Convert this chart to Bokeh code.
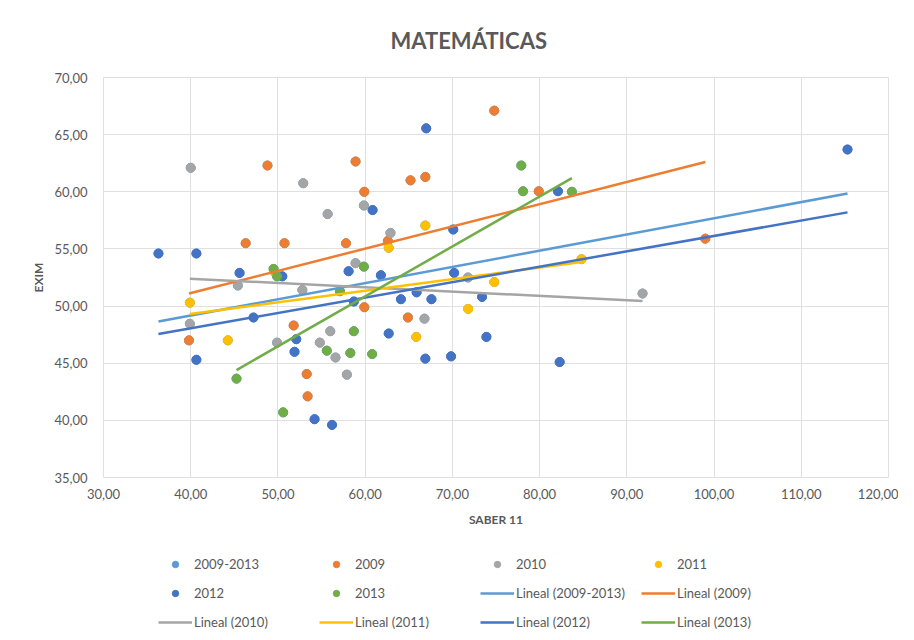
from bokeh.plotting import figure
from bokeh.layouts import column
from bokeh.models import (Legend, LegendItem, CustomJSTickFormatter, FixedTicker, Range1d)
from bokeh.embed import file_html
from bokeh.resources import INLINE

# ---------------- data ----------------
x_2009 = [39.8, 46.3, 48.8, 50.75, 51.8, 53.3, 53.4, 57.8, 58.9, 59.9, 59.9, 62.6,
          64.9, 65.2, 66.9, 74.8, 79.9, 99.0]
y_2009 = [47.0, 55.5, 62.3, 55.5, 48.3, 44.05, 42.1, 55.5, 62.65, 60.0, 49.9, 55.7,
          49.0, 61.0, 61.3, 67.1, 60.05, 55.9]

x_2010 = [40.0, 39.9, 45.4, 49.9, 52.8, 52.9, 54.8, 55.7, 56.0, 56.6, 57.9, 58.9,
          59.85, 62.9, 66.8, 71.8, 91.8]
y_2010 = [62.1, 48.45, 51.8, 46.8, 51.4, 60.75, 46.8, 58.05, 47.8, 45.5, 44.0, 53.75,
          58.8, 56.4, 48.9, 52.5, 51.1]

x_2011 = [39.9, 44.25, 49.7, 62.7, 65.85, 66.9, 71.8, 74.8, 84.8]
y_2011 = [50.3, 47.0, 52.9, 55.1, 47.3, 57.05, 49.75, 52.1, 54.1]

x_2012 = [36.3, 40.65, 40.65, 45.6, 47.2, 50.5, 51.9, 52.1, 54.2, 56.2, 58.1, 58.7,
          60.85, 61.8, 62.7, 64.1, 65.9, 66.9, 67.0, 67.6, 69.85, 70.1, 70.2, 73.4,
          73.9, 82.1, 82.3, 115.3]
y_2012 = [54.6, 54.6, 45.3, 52.9, 49.0, 52.6, 46.0, 47.1, 40.1, 39.6, 53.05, 50.4,
          58.4, 52.7, 47.6, 50.6, 51.2, 45.4, 65.55, 50.6, 45.6, 56.7, 52.9, 50.8,
          47.3, 60.05, 45.1, 63.7]

x_2013 = [45.25, 49.5, 49.9, 50.6, 55.6, 57.1, 58.3, 58.7, 59.85, 60.8, 77.9, 78.1, 83.7]
y_2013 = [43.65, 53.25, 52.6, 40.7, 46.1, 51.3, 45.9, 47.8, 53.45, 45.8, 62.3, 60.05, 60.0]

# 2009-2013 series = all years together
x_all = x_2009 + x_2010 + x_2011 + x_2012 + x_2013
y_all = y_2009 + y_2010 + y_2011 + y_2012 + y_2013

# linear trend lines (x range of each series, fitted value at each end)
trend_names = ["Lineal (2009-2013)", "Lineal (2009)", "Lineal (2010)",
               "Lineal (2011)", "Lineal (2012)", "Lineal (2013)"]
trend_x0 = [36.3, 39.8, 39.9, 39.9, 36.3, 45.25]
trend_x1 = [115.3, 99.0, 91.8, 84.8, 115.3, 83.7]
trend_y0 = [48.65, 51.1, 52.4, 49.3, 47.55, 44.4]
trend_y1 = [59.85, 62.6, 50.45, 53.85, 58.2, 61.2]

series_names = ["2009-2013", "2009", "2010", "2011", "2012", "2013"]

x_ticks = [30, 40, 50, 60, 70, 80, 90, 100, 110, 120]
y_ticks = [35, 40, 45, 50, 55, 60, 65, 70]

# ---------------- styling ----------------
FONT = "Lato"
TXT = "#595959"
GRID = "#E0E0E0"
COLORS = ["#5B9BD5", "#ED7D31", "#A5A5A5", "#FFC000", "#4472C4", "#70AD47"]
MS = 9
LW = 2.5

p = figure(width=898, height=546, output_backend="svg", toolbar_location=None,
           x_range=Range1d(30, 120), y_range=Range1d(35, 70),
           min_border_left=103, min_border_right=10, min_border_top=77,
           min_border_bottom=69)
p.outline_line_color = GRID
p.background_fill_color = "white"
p.border_fill_color = "white"

p.title.text = "MATEMÁTICAS"
p.title.align = "left"
p.title.offset = 287
p.title.standoff = 48
p.title.text_font = FONT
p.title.text_font_size = "22px"
p.title.text_font_style = "bold"
p.title.text_color = TXT

p.xaxis.ticker = FixedTicker(ticks=x_ticks)
p.yaxis.ticker = FixedTicker(ticks=y_ticks)
fmt = CustomJSTickFormatter(code="return tick.toFixed(2).replace('.', ',');")
p.xaxis.formatter = fmt
p.yaxis.formatter = fmt
for ax in (p.xaxis[0], p.yaxis[0]):
    ax.axis_line_color = None
    ax.major_tick_line_color = None
    ax.minor_tick_line_color = None
    ax.major_label_text_font = FONT
    ax.major_label_text_font_size = "13px"
    ax.major_label_text_color = TXT
    ax.axis_label_text_font = FONT
    ax.axis_label_text_font_size = "12px"
    ax.axis_label_text_font_style = "bold"
    ax.axis_label_text_color = TXT
p.xaxis.axis_label = "SABER 11"
p.yaxis.axis_label = "EXIM"
p.xaxis.major_label_standoff = 5
p.xaxis.axis_label_standoff = 10
p.yaxis.major_label_standoff = 10
p.yaxis.axis_label_standoff = 5
p.xgrid.grid_line_color = GRID
p.ygrid.grid_line_color = GRID

all_x = [x_all, x_2009, x_2010, x_2011, x_2012, x_2013]
all_y = [y_all, y_2009, y_2010, y_2011, y_2012, y_2013]
for i in range(len(series_names)):
    p.scatter(all_x[i], all_y[i], size=MS, color=COLORS[i])
for i in range(len(trend_names)):
    p.line([trend_x0[i], trend_x1[i]], [trend_y0[i], trend_y1[i]],
           line_color=COLORS[i], line_width=LW)

# ---------------- legend (separate strip under the chart) ----------------
# Same series drawn again in a strip whose ranges keep them out of view,
# so that only the legend shows there.
lg = figure(width=898, height=86, output_backend="svg", toolbar_location=None,
            x_axis_type=None, y_axis_type=None, x_range=Range1d(0, 1),
            y_range=Range1d(0, 1), min_border=0)
lg.outline_line_color = None
lg.grid.visible = False
lg.background_fill_color = "white"
lg.border_fill_color = "white"

mk = [lg.scatter(all_x[i], all_y[i], size=MS, color=COLORS[i])
      for i in range(len(series_names))]
ln = [lg.line([trend_x0[i], trend_x1[i]], [trend_y0[i], trend_y1[i]],
              line_color=COLORS[i], line_width=LW) for i in range(len(trend_names))]
items = [LegendItem(label=series_names[i], renderers=[mk[i]]) for i in range(len(series_names))]
items += [LegendItem(label=trend_names[i], renderers=[ln[i]]) for i in range(len(trend_names))]

legend = Legend(items=items, orientation="horizontal", ncols=4,
                location=(55, 2), glyph_width=34, glyph_height=16,
                label_width=112, label_height=16, label_standoff=2, spacing=13,
                padding=0, margin=0, border_line_color=None,
                background_fill_alpha=0, label_text_font=FONT,
                label_text_font_size="13px", label_text_color=TXT)
lg.add_layout(legend)

layout = column(p, lg, spacing=0)
open("out.html", "w").write(file_html(layout, INLINE))
